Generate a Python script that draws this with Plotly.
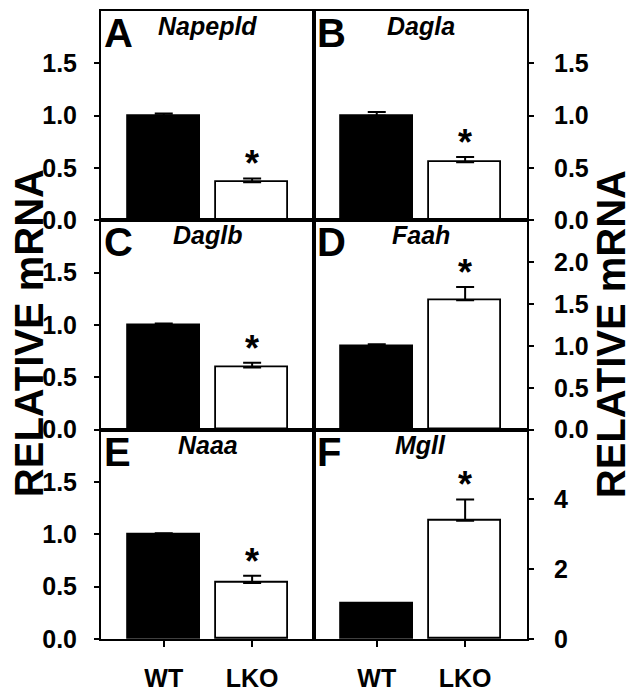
import plotly.graph_objects as go
from plotly.subplots import make_subplots

# panel data, reading order A-F
letters = ["A", "B", "C", "D", "E", "F"]
genes = ["Napepld", "Dagla", "Daglb", "Faah", "Naaa", "Mgll"]
groups = ["WT", "LKO"]
wt = [1.0, 1.0, 1.0, 1.0, 1.0, 1.0]
wt_err = [0.02, 0.035, 0.015, 0.02, 0.01, 0.02]
lko = [0.365, 0.555, 0.595, 1.545, 0.535, 3.39]
lko_err = [0.035, 0.05, 0.045, 0.16, 0.07, 0.61]
y_max = [2.0, 2.0, 2.0, 2.5, 2.0, 6.0]
y_ticks = [
    [0, 0.5, 1.0, 1.5],
    [0, 0.5, 1.0, 1.5],
    [0, 0.5, 1.0, 1.5],
    [0, 0.5, 1.0, 1.5, 2.0],
    [0, 0.5, 1.0, 1.5],
    [0, 2, 4],
]

FONT = "Arial, Liberation Sans, sans-serif"

fig = make_subplots(rows=3, cols=2, horizontal_spacing=0, vertical_spacing=0)

for i in range(6):
    row, col = i // 2 + 1, i % 2 + 1
    fig.add_trace(go.Bar(
        x=[0, 1],
        y=[wt[i], lko[i]],
        width=0.81,
        marker=dict(color=["black", "white"], line=dict(color="black", width=1.8)),
        error_y=dict(type="data", symmetric=False,
                     array=[wt_err[i], lko_err[i]], arrayminus=[0, 0],
                     color="black", thickness=2, width=9),
        showlegend=False,
    ), row=row, col=col)

    n = "" if i == 0 else str(i + 1)
    fig.add_annotation(x=1, y=lko[i] + lko_err[i], xref="x" + n, yref="y" + n,
                       text="<b>*</b>", showarrow=False, yanchor="bottom",
                       yshift=-8, font=dict(size=36, color="black", family=FONT))
    fig.add_annotation(x=0, y=1, xref="x" + n + " domain", yref="y" + n + " domain",
                       text="<b>" + letters[i] + "</b>", showarrow=False,
                       xanchor="left", yanchor="top", xshift=1, yshift=2,
                       font=dict(size=40, color="black", family=FONT))
    fig.add_annotation(x=0.5, y=1, xref="x" + n + " domain", yref="y" + n + " domain",
                       text="<b><i>" + genes[i] + "</i></b>", showarrow=False,
                       xanchor="center", yanchor="top", yshift=1,
                       font=dict(size=25, color="black", family=FONT))

    fmt = [("%g" % v) if i == 5 else ("%.1f" % v) for v in y_ticks[i]]
    fig.update_yaxes(range=[0, y_max[i]], tickvals=y_ticks[i], ticktext=fmt,
                     side="left" if col == 1 else "right",
                     ticklabelstandoff=12 if col == 1 else 15,
                     row=row, col=col)
    fig.update_xaxes(range=[-0.71, 1.70], tickvals=[0, 1],
                     ticktext=groups if row == 3 else ["", ""],
                     ticks="outside" if row == 3 else "",
                     row=row, col=col)

fig.update_xaxes(showline=True, mirror=True, linecolor="black", linewidth=2,
                 showgrid=False, zeroline=False, ticklen=6, tickwidth=2,
                 tickcolor="black", ticklabelstandoff=10,
                 tickfont=dict(size=25, color="black", family=FONT, weight="bold"))
fig.update_yaxes(showline=True, mirror=True, linecolor="black", linewidth=2,
                 showgrid=False, zeroline=False, ticks="outside", ticklen=5,
                 tickwidth=2, tickcolor="black",
                 tickfont=dict(size=25, color="black", family=FONT, weight="bold"))

fig.add_annotation(x=-0.169, y=0.487, xref="paper", yref="paper",
                   xanchor="center", yanchor="middle", borderpad=0,
                   text="<b>RELATIVE mRNA</b>", textangle=-90, showarrow=False,
                   font=dict(size=40, color="black", family=FONT))
fig.add_annotation(x=1.199, y=0.485, xref="paper", yref="paper",
                   xanchor="center", yanchor="middle", borderpad=0,
                   text="<b>RELATIVE mRNA</b>", textangle=-90, showarrow=False,
                   font=dict(size=40, color="black", family=FONT))

# page body adds an 8px offset, so the figure is sized to fit the window
fig.update_layout(
    width=627, height=685,
    margin=dict(l=93, r=108, t=1, b=52),
    plot_bgcolor="white", paper_bgcolor="white",
    bargap=0,
)

fig.write_html("out.html")
